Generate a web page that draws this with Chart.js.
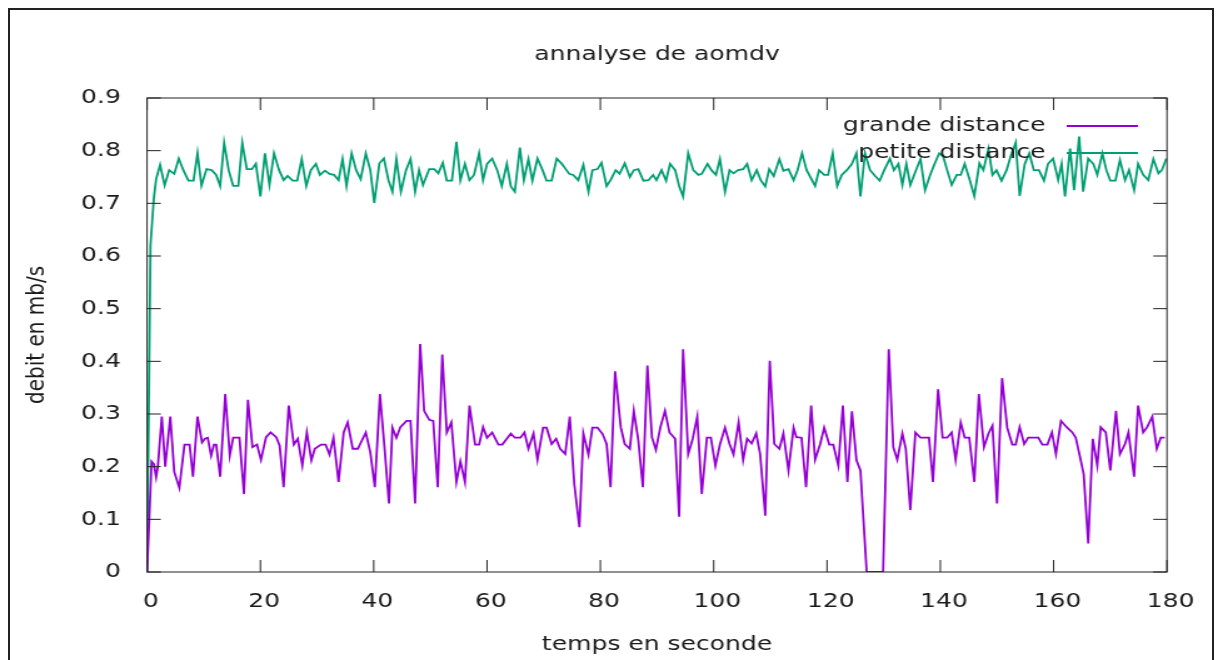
<!DOCTYPE html>
<html>
<head>
<meta charset="utf-8">
<script src="https://cdn.jsdelivr.net/npm/chart.js@4/dist/chart.umd.min.js"></script>
<style>
  html, body { margin: 0; padding: 0; background: #fff; overflow: hidden; }
  #frame { position: absolute; left: 8px; top: 8px; width: 1202px; height: 700px; border: 2px solid #222; }
  #chart { position: absolute; left: 0; top: 0; transform: scaleX(1.2505); transform-origin: 0 0; }
</style>
</head>
<body>
<div id="frame"></div>
<canvas id="chart" width="974" height="660"></canvas>
<script>
// grande distance (s, mb/s)
const gdTime = [0, 0.8, 1.2, 1.6, 1.9, 2.6, 3.2, 4.1, 4.8, 5.7, 6.6, 7.5, 8.1, 8.9, 9.7, 10.2, 10.7, 11.3, 11.8, 12.2,
  12.9, 13.8, 14.6, 15.2, 16.3, 17.1, 17.8, 18.6, 19.4, 20.1, 21.0, 21.8, 22.8, 23.4, 24.1, 25.0, 25.9, 26.6, 27.4, 28.2,
  29.0, 29.6, 30.7, 31.5, 32.2, 32.9, 33.8, 34.7, 35.4, 36.3, 37.2, 38.6, 39.4, 40.2, 41.1, 41.9, 42.7, 43.3, 44.0, 44.7,
  45.8, 46.5, 47.3, 48.2, 48.9, 49.8, 50.5, 51.3, 52.1, 52.9, 53.7, 54.6, 55.3, 56.1, 56.9, 57.9, 58.6, 59.3, 60.0, 60.9,
  62.0, 62.7, 64.2, 64.9, 65.9, 66.6, 67.3, 68.2, 68.9, 69.9, 70.5, 71.4, 72.2, 72.9, 73.8, 74.6, 75.4, 76.3, 77.0, 77.9,
  78.6, 79.5, 80.4, 81.1, 81.8, 82.6, 83.6, 84.3, 85.2, 85.9, 86.7, 87.5, 88.3, 89.1, 89.8, 90.6, 91.4, 92.2, 93.2, 93.9,
  94.6, 95.5, 96.3, 97.1, 97.9, 98.8, 99.5, 100.3, 101.1, 102.0, 102.8, 103.5, 104.4, 105.2, 105.9, 106.7, 107.5, 108.2, 109.1, 109.9,
  110.7, 111.6, 112.3, 113.2, 114.1, 114.6, 115.5, 116.3, 117.2, 117.9, 118.8, 119.5, 120.4, 121.1, 122.0, 122.8, 123.6, 124.4, 125.2, 125.9,
  127.0, 129.9, 130.9, 131.7, 132.4, 133.3, 133.9, 134.7, 135.6, 136.5, 138.0, 138.7, 139.6, 140.4, 141.2, 142.0, 142.7, 143.6, 144.3, 145.1,
  146.0, 146.8, 147.7, 148.5, 149.2, 150.0, 150.9, 151.8, 152.7, 153.3, 154.0, 154.8, 155.5, 157.3, 158.0, 158.9, 159.7, 160.4, 161.3, 162.3,
  163.3, 163.9, 164.6, 165.3, 166.1, 166.9, 167.7, 168.3, 169.2, 170.0, 171.0, 171.7, 172.6, 173.2, 174.2, 174.9, 175.8, 176.5, 177.4, 178.2,
  178.9, 179.6];
const gdValue = [0, 0.21, 0.205, 0.18, 0.2, 0.295, 0.2, 0.295, 0.19, 0.16, 0.242, 0.242, 0.181, 0.295, 0.246, 0.253, 0.255, 0.221, 0.242, 0.242,
  0.181, 0.338, 0.221, 0.255, 0.255, 0.148, 0.327, 0.237, 0.242, 0.213, 0.256, 0.265, 0.256, 0.24, 0.161, 0.316, 0.242, 0.253, 0.202, 0.265,
  0.212, 0.234, 0.242, 0.242, 0.223, 0.255, 0.171, 0.265, 0.284, 0.234, 0.234, 0.265, 0.227, 0.161, 0.338, 0.237, 0.13, 0.274, 0.255, 0.275,
  0.287, 0.287, 0.13, 0.433, 0.306, 0.289, 0.287, 0.161, 0.413, 0.265, 0.284, 0.171, 0.21, 0.171, 0.316, 0.242, 0.242, 0.275, 0.255, 0.265,
  0.242, 0.242, 0.263, 0.255, 0.255, 0.265, 0.234, 0.263, 0.213, 0.274, 0.274, 0.243, 0.253, 0.234, 0.224, 0.295, 0.167, 0.085, 0.263, 0.223,
  0.274, 0.274, 0.262, 0.243, 0.161, 0.381, 0.275, 0.243, 0.234, 0.306, 0.25, 0.161, 0.392, 0.256, 0.232, 0.275, 0.306, 0.265, 0.253, 0.105,
  0.423, 0.224, 0.253, 0.295, 0.148, 0.255, 0.255, 0.202, 0.242, 0.274, 0.243, 0.223, 0.284, 0.213, 0.253, 0.244, 0.263, 0.224, 0.107, 0.401,
  0.243, 0.234, 0.263, 0.193, 0.274, 0.256, 0.255, 0.161, 0.316, 0.213, 0.243, 0.274, 0.242, 0.242, 0.202, 0.316, 0.171, 0.305, 0.212, 0.193,
  0, 0, 0.423, 0.237, 0.213, 0.263, 0.234, 0.118, 0.265, 0.255, 0.255, 0.171, 0.347, 0.255, 0.255, 0.265, 0.213, 0.284, 0.255, 0.255,
  0.171, 0.338, 0.237, 0.263, 0.278, 0.13, 0.368, 0.274, 0.242, 0.242, 0.275, 0.243, 0.255, 0.255, 0.242, 0.242, 0.265, 0.224, 0.287, 0.275,
  0.265, 0.255, 0.221, 0.186, 0.054, 0.253, 0.202, 0.275, 0.265, 0.193, 0.306, 0.224, 0.243, 0.265, 0.181, 0.316, 0.265, 0.275, 0.295, 0.234,
  0.255, 0.255];

// petite distance (s, mb/s)
const pdTime = [0, 0.6, 1.2, 1.6, 2.3, 3.1, 3.9, 4.8, 5.6, 6.4, 7.3, 8.2, 8.9, 9.6, 10.5, 11.4, 12.2, 12.9, 13.6, 14.4,
  15.2, 16.1, 16.8, 17.6, 18.5, 19.2, 20.0, 20.8, 21.6, 22.4, 23.3, 24.1, 24.8, 25.7, 26.5, 27.3, 28.1, 28.9, 29.8, 30.5,
  31.4, 32.2, 33.0, 33.8, 34.5, 35.2, 36.1, 36.9, 37.7, 38.6, 39.4, 40.1, 41.0, 41.8, 42.6, 43.3, 44.0, 44.8, 45.7, 46.5,
  47.3, 48.0, 48.7, 49.8, 50.7, 51.4, 52.2, 52.9, 53.8, 54.6, 55.3, 56.1, 56.9, 57.7, 58.6, 59.3, 60.0, 60.9, 61.8, 62.6,
  63.5, 64.2, 64.9, 65.8, 66.5, 67.3, 68.0, 68.9, 69.8, 70.5, 71.4, 72.3, 73.2, 74.5, 75.2, 76.1, 77.0, 77.9, 78.6, 79.5,
  80.2, 81.1, 81.8, 82.7, 83.4, 84.3, 85.2, 85.9, 86.7, 87.6, 88.5, 89.3, 89.9, 90.8, 91.6, 92.3, 93.2, 93.9, 94.6, 95.5,
  96.4, 97.3, 97.9, 98.9, 99.6, 100.4, 101.1, 102.0, 102.8, 103.5, 104.3, 105.2, 105.9, 106.7, 107.6, 108.3, 109.1, 109.8, 110.6, 111.6,
  112.3, 113.2, 114.1, 114.8, 115.6, 116.4, 117.9, 118.6, 119.5, 120.2, 121.0, 121.8, 122.6, 123.5, 124.4, 125.2, 125.9, 126.7, 127.6, 128.5,
  129.3, 130.1, 131.1, 131.8, 132.6, 133.3, 134.0, 134.7, 135.7, 136.5, 137.3, 138.2, 139.0, 139.8, 140.5, 141.2, 142.0, 142.9, 143.6, 144.3,
  145.2, 146.0, 146.9, 147.6, 148.5, 149.2, 149.9, 150.8, 151.7, 152.4, 153.3, 154.0, 154.9, 155.7, 156.5, 157.4, 158.3, 159.0, 159.9, 160.8,
  161.4, 162.0, 162.9, 163.6, 164.5, 165.2, 166.1, 167.0, 167.7, 168.6, 169.3, 170.0, 170.9, 171.7, 172.6, 173.3, 174.2, 174.9, 175.8, 176.7,
  177.6, 178.5, 179.1, 179.9];
const pdValue = [0, 0.62, 0.71, 0.746, 0.773, 0.734, 0.763, 0.756, 0.785, 0.763, 0.743, 0.743, 0.795, 0.734, 0.765, 0.763, 0.754, 0.733, 0.815, 0.763,
  0.733, 0.733, 0.815, 0.765, 0.765, 0.775, 0.713, 0.795, 0.735, 0.795, 0.763, 0.744, 0.752, 0.743, 0.743, 0.784, 0.733, 0.763, 0.775, 0.754,
  0.762, 0.756, 0.754, 0.744, 0.784, 0.733, 0.795, 0.763, 0.746, 0.795, 0.763, 0.701, 0.776, 0.785, 0.744, 0.722, 0.784, 0.722, 0.763, 0.784,
  0.722, 0.763, 0.735, 0.765, 0.765, 0.757, 0.777, 0.743, 0.743, 0.817, 0.744, 0.775, 0.744, 0.754, 0.795, 0.744, 0.775, 0.785, 0.763, 0.733,
  0.775, 0.732, 0.722, 0.806, 0.744, 0.784, 0.743, 0.785, 0.763, 0.743, 0.743, 0.785, 0.775, 0.756, 0.754, 0.744, 0.773, 0.722, 0.763, 0.765,
  0.777, 0.733, 0.744, 0.763, 0.756, 0.776, 0.75, 0.763, 0.765, 0.743, 0.744, 0.754, 0.744, 0.763, 0.743, 0.775, 0.763, 0.733, 0.713, 0.795,
  0.763, 0.754, 0.756, 0.775, 0.763, 0.754, 0.784, 0.722, 0.763, 0.757, 0.763, 0.765, 0.775, 0.744, 0.763, 0.744, 0.732, 0.765, 0.752, 0.784,
  0.762, 0.765, 0.744, 0.763, 0.795, 0.763, 0.733, 0.763, 0.754, 0.754, 0.795, 0.733, 0.754, 0.763, 0.775, 0.795, 0.713, 0.795, 0.763, 0.752,
  0.743, 0.763, 0.785, 0.763, 0.775, 0.735, 0.775, 0.735, 0.763, 0.784, 0.725, 0.754, 0.775, 0.795, 0.789, 0.763, 0.735, 0.754, 0.754, 0.775,
  0.744, 0.714, 0.776, 0.763, 0.804, 0.754, 0.763, 0.743, 0.763, 0.789, 0.815, 0.714, 0.775, 0.795, 0.763, 0.763, 0.743, 0.775, 0.785, 0.744,
  0.775, 0.713, 0.804, 0.725, 0.827, 0.722, 0.785, 0.775, 0.754, 0.795, 0.763, 0.743, 0.743, 0.782, 0.744, 0.763, 0.725, 0.775, 0.754, 0.744,
  0.784, 0.757, 0.763, 0.785];

const seriesNames = ["grande distance", "petite distance"];
const seriesColors = ["#9400d3", "#009e73"];
const chartTitle = "annalyse de aomdv";

Chart.defaults.font.family = "'DejaVu Sans', sans-serif";
Chart.defaults.font.size = 20;
Chart.defaults.color = "#1a1a1a";

// gnuplot style: border, inward ticks on all sides, title and legend
const gnuplotLook = {
  id: "gnuplotLook",
  afterDatasetsDraw(chart) {
    const { ctx, chartArea: a, scales } = chart;
    ctx.save();
    ctx.strokeStyle = "#222";
    ctx.lineWidth = 1;
    ctx.strokeRect(a.left, a.top, a.width, a.height);
    ctx.beginPath();
    scales.x.ticks.forEach((t) => {
      const px = scales.x.getPixelForValue(t.value);
      ctx.moveTo(px, a.bottom);
      ctx.lineTo(px, a.bottom - 12);
      ctx.moveTo(px, a.top);
      ctx.lineTo(px, a.top + 12);
    });
    scales.y.ticks.forEach((t) => {
      const py = scales.y.getPixelForValue(t.value);
      ctx.moveTo(a.left, py);
      ctx.lineTo(a.left + 11, py);
      ctx.moveTo(a.right, py);
      ctx.lineTo(a.right - 11, py);
    });
    ctx.stroke();

    ctx.fillStyle = "#1a1a1a";
    ctx.font = "20px 'DejaVu Sans'";
    ctx.textAlign = "center";
    ctx.textBaseline = "middle";
    ctx.fillText(chartTitle, (a.left + a.right) / 2, 55);

    ctx.textAlign = "right";
    chart.data.datasets.forEach((ds, i) => {
      const yy = 126 + i * 27;
      ctx.fillStyle = "#1a1a1a";
      ctx.fillText(ds.label, 836, yy);
      ctx.strokeStyle = ds.borderColor;
      ctx.lineWidth = 1.8;
      ctx.beginPath();
      ctx.moveTo(853, yy);
      ctx.lineTo(910, yy);
      ctx.stroke();
    });
    ctx.restore();
  },
};

const ctx = document.getElementById("chart").getContext("2d");
new Chart(ctx, {
  type: "line",
  data: {
    datasets: [
      {
        label: seriesNames[0],
        data: gdTime.map((t, i) => ({ x: t, y: gdValue[i] })),
        borderColor: seriesColors[0],
      },
      {
        label: seriesNames[1],
        data: pdTime.map((t, i) => ({ x: t, y: pdValue[i] })),
        borderColor: seriesColors[1],
      },
    ],
  },
  options: {
    responsive: false,
    animation: false,
    layout: { padding: { top: 98, right: 40.8, left: 0, bottom: 0 } },
    elements: {
      point: { radius: 0 },
      line: { borderWidth: 1.8, tension: 0 },
    },
    plugins: {
      legend: { display: false },
      tooltip: { enabled: false },
    },
    scales: {
      x: {
        type: "linear",
        min: 0,
        max: 180,
        grid: { display: false },
        border: { display: false },
        ticks: { stepSize: 20, padding: 10, maxRotation: 0, labelOffset: 3 },
        title: { display: true, text: "temps en seconde", padding: { top: 0, bottom: 3 } },
        afterFit(scale) {
          scale.height = 88;
        },
      },
      y: {
        min: 0,
        max: 0.9,
        grid: { display: false },
        border: { display: false },
        ticks: { stepSize: 0.1, padding: 13 },
        title: { display: true, text: "debit en mb/s", padding: { top: 17.6, bottom: 0 } },
        afterFit(scale) {
          scale.width = 117.6;
        },
      },
    },
  },
  plugins: [gnuplotLook],
});
</script>
</body>
</html>
